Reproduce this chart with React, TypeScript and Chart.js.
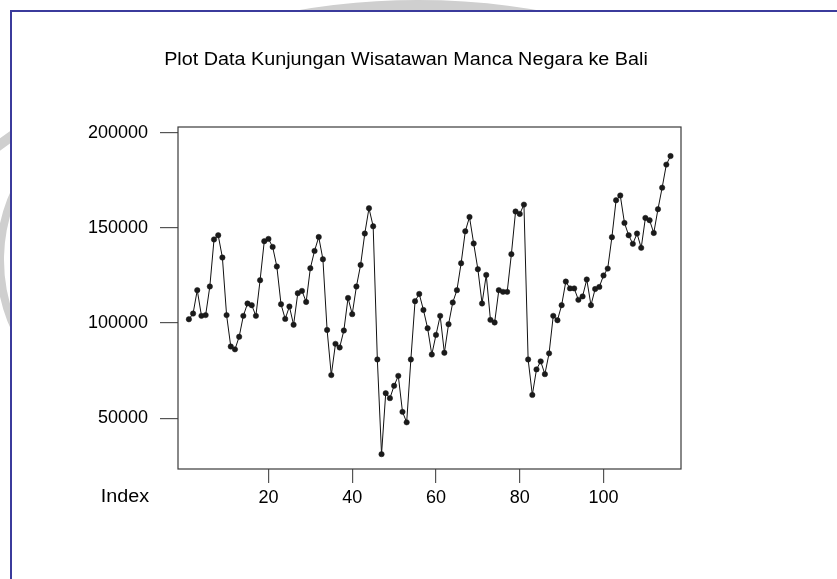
import React, { useEffect, useRef } from "react";
import { Chart, registerables } from "chart.js";

Chart.register(...registerables);

const TITLE = "Plot Data Kunjungan Wisatawan Manca Negara ke Bali";
const X_LABEL = "Index";

const visitors: number[] = [
  102000, 105000, 117300, 103800, 104200, 119200, 143900, 146100, 134400, 104200,
  87700, 86200, 92800, 103800, 110300, 109400, 103800, 122500, 143000, 144200,
  140000, 129700, 109900, 102200, 108700, 99100, 115700, 116900, 111100, 128800,
  137900, 145200, 133500, 96400, 72700, 89100, 87200, 96100, 113200, 104700,
  119200, 130500, 147000, 160300, 150800, 80900, 31200, 63200, 60600, 67100,
  72300, 53400, 47900, 80900, 111500, 115300, 106900, 97300, 83500, 93800,
  103800, 84400, 99400, 110800, 117300, 131400, 148200, 155700, 141800, 128300,
  110300, 125300, 101700, 100300, 117300, 116400, 116400, 136200, 158600, 157300,
  162200, 80900, 62300, 75700, 79900, 73200, 84100, 103800, 101500, 109400,
  121800, 118200, 118200, 112200, 114000, 122900, 109400, 117900, 119000, 125000,
  128600, 145100, 164500, 167000, 152600, 146100, 141600, 147000, 139500, 155200,
  154000, 147300, 159800, 171100, 183200, 187700,
];

const xTicks: number[] = [20, 40, 60, 80, 100];
const yTicks: number[] = [50000, 100000, 150000, 200000];

const FONT = "'Liberation Sans', Arial, sans-serif";

export default function App() {
  const ref = useRef<HTMLCanvasElement | null>(null);

  useEffect(() => {
    if (!ref.current) return;
    const points = visitors.map((v, i) => ({ x: i + 1, y: v }));

    const framePlugin = {
      id: "frameAndText",
      afterDraw(chart: any) {
        const { ctx, chartArea } = chart;
        ctx.save();
        ctx.strokeStyle = "#3a3a3a";
        ctx.lineWidth = 1.2;
        ctx.strokeRect(chartArea.left, chartArea.top, chartArea.right - chartArea.left, chartArea.bottom - chartArea.top);
        ctx.fillStyle = "#000";
        ctx.font = `17.5px ${FONT}`;
        ctx.textAlign = "center";
        ctx.textBaseline = "middle";
        const sx = 1.13;
        ctx.save();
        ctx.translate(406, 60);
        ctx.scale(sx, 1);
        ctx.fillText(TITLE, 0, 0);
        ctx.restore();
        ctx.save();
        ctx.translate(125, 497);
        ctx.scale(sx, 1);
        ctx.fillText(X_LABEL, 0, 0);
        ctx.restore();
        ctx.restore();
      },
    };

    const chart = new Chart(ref.current, {
      type: "line",
      data: {
        datasets: [
          {
            data: points,
            borderColor: "#111",
            borderWidth: 1,
            pointRadius: 2.7,
            pointBackgroundColor: "#1a1a1a",
            pointBorderColor: "#1a1a1a",
            pointBorderWidth: 0.5,
            tension: 0,
          },
        ],
      },
      options: {
        responsive: false,
        animation: false,
        layout: { padding: { left: 0, top: 127, right: 156, bottom: 0 } },
        plugins: { legend: { display: false }, tooltip: { enabled: false }, title: { display: false } },
        scales: {
          x: {
            type: "linear",
            min: -1.6,
            max: 118.5,
            afterBuildTicks: (s: any) => {
              s.ticks = xTicks.map((v) => ({ value: v }));
            },
            afterFit: (s: any) => {
              s.height = 110;
            },
            grid: { drawOnChartArea: false, drawTicks: true, tickLength: 14, color: "#555", lineWidth: 1.2 },
            border: { display: false },
            ticks: {
              color: "#000",
              font: { family: FONT, size: 18 },
              padding: 4,
              maxRotation: 0,
              callback: (v: any) => String(v),
            },
          },
          y: {
            type: "linear",
            min: 23400,
            max: 202940,
            afterBuildTicks: (s: any) => {
              s.ticks = yTicks.map((v) => ({ value: v }));
            },
            afterFit: (s: any) => {
              s.width = 178;
            },
            grid: { drawOnChartArea: false, drawTicks: true, tickLength: 18, color: "#555", lineWidth: 1.2 },
            border: { display: false },
            ticks: {
              color: "#000",
              font: { family: FONT, size: 18 },
              padding: 12,
              callback: (v: any) => String(v),
            },
          },
        },
      },
      plugins: [framePlugin],
    });
    return () => chart.destroy();
  }, []);

  return (
    <div style={{ position: "absolute", left: 0, top: 0, width: 837, height: 579, overflow: "hidden", background: "#fff" }}>
      <div
        style={{
          position: "absolute",
          left: 418 - 700,
          top: 0,
          width: 1400,
          height: 1400,
          borderRadius: "50%",
          border: "10px solid #cfcfcf",
          boxSizing: "border-box",
        }}
      />
      <div
        style={{
          position: "absolute",
          left: -4,
          top: 100,
          width: 300,
          height: 320,
          borderRadius: "50%",
          border: "8px solid #cfcfcf",
          boxSizing: "border-box",
        }}
      />
      <div
        style={{
          position: "absolute",
          left: 10,
          top: 10,
          right: 0,
          bottom: 0,
          background: "#fff",
          borderLeft: "2px solid #3b3b9c",
          borderTop: "2px solid #3b3b9c",
        }}
      />
      <canvas ref={ref} width={837} height={579} style={{ position: "absolute", left: 0, top: 0, width: 837, height: 579 }} />
    </div>
  );
}
